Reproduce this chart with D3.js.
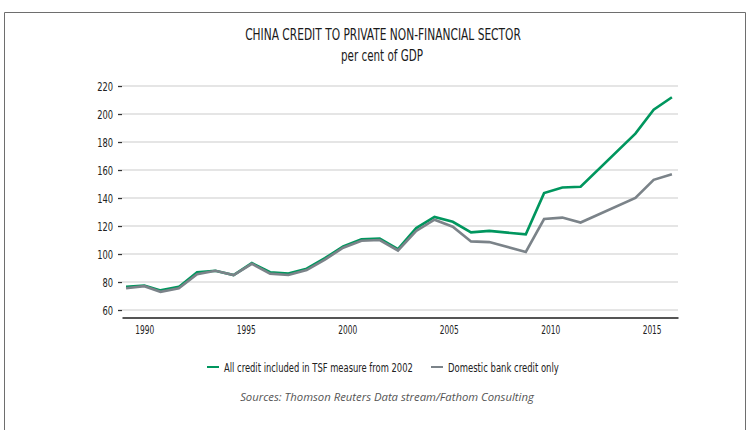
<!DOCTYPE html>
<html>
<head>
<meta charset="utf-8">
<script src="https://cdn.jsdelivr.net/npm/d3@7"></script>
<style>
  body { margin: 0; background: #fff; }
  svg { display: block; }
</style>
</head>
<body>
<div id="wrapper"></div>
<script>
// data (x = year position on the axis)
const years = [1989.1, 1990.0, 1990.8, 1991.7, 1992.6, 1993.5, 1994.4, 1995.3, 1996.2, 1997.1,
  1998.0, 1998.9, 1999.8, 2000.7, 2001.6, 2002.5, 2003.4, 2004.3, 2005.2, 2006.1,
  2007.0, 2008.8, 2009.7, 2010.6, 2011.5, 2014.2, 2015.1, 2016.0]
const allCredit = [76.5, 77.5, 74, 76.5, 87, 88, 85, 93.5, 87, 86,
  89.5, 97, 105.5, 110.5, 111, 103.5, 118.5, 126.5, 123, 115.5,
  116.5, 114, 143.5, 147.5, 148, 186, 203, 212]
const bankCredit = [75.5, 77, 73, 75.5, 85.5, 88, 85, 93, 86, 85,
  88.5, 96, 104.5, 109.5, 110, 102.5, 116.5, 124.5, 119.5, 109,
  108.5, 101.5, 125, 126, 122.5, 140, 153, 157]
const yTicks = [60, 80, 100, 120, 140, 160, 180, 200, 220]
const xTicks = [1990, 1995, 2000, 2005, 2010, 2015]
const seriesNames = ["All credit included in TSF measure from 2002", "Domestic bank credit only"]
const seriesColors = ["#00965e", "#7b8389"]

const narrow = "'DejaVu Sans Condensed', 'Liberation Sans Narrow', 'Roboto', sans-serif"

// squeeze a text horizontally around its anchor x so it spans `w` px
const squeeze = (sel, w) => sel.each(function (d, i) {
  const target = typeof w === "function" ? w.call(this, d, i) : w
  const len = this.getComputedTextLength()
  if (!len) return
  const s = target / len
  const x = +this.getAttribute("x") || 0
  d3.select(this).attr("transform", `translate(${x},0) scale(${s},1) translate(${-x},0)`)
})

const dimensions = {
  width: 755,
  height: 430,
  margin: { top: 86, right: 77, bottom: 112, left: 122 },
}
dimensions.boundedWidth = dimensions.width - dimensions.margin.left - dimensions.margin.right
dimensions.boundedHeight = dimensions.height - dimensions.margin.top - dimensions.margin.bottom

const wrapper = d3.select("#wrapper")
  .append("svg")
    .attr("width", dimensions.width)
    .attr("height", dimensions.height)

// frame
wrapper.append("path")
  .attr("d", "M4.5,440V12.5H745.5V440")
  .attr("fill", "none")
  .attr("stroke", "#6e6e6e")
  .attr("stroke-width", 1)

// titles
wrapper.append("text")
  .attr("x", 383).attr("y", 40)
  .attr("text-anchor", "middle")
  .style("font-family", narrow)
  .style("font-size", "16px")
  .attr("fill", "#1a1a1a")
  .text("CHINA CREDIT TO PRIVATE NON-FINANCIAL SECTOR")
  .call(squeeze, 276)

wrapper.append("text")
  .attr("x", 382).attr("y", 61)
  .attr("text-anchor", "middle")
  .style("font-family", narrow)
  .style("font-size", "16px")
  .attr("fill", "#1a1a1a")
  .text("per cent of GDP")
  .call(squeeze, 82)

const bounds = wrapper.append("g")
  .attr("transform", `translate(${dimensions.margin.left},${dimensions.margin.top})`)

// scales
const xScale = d3.scaleLinear()
  .domain([1988.9, 2016.3])
  .range([0, dimensions.boundedWidth])

const yScale = d3.scaleLinear()
  .domain([60, 220])
  .range([224, 0])

// gridlines
bounds.append("g")
  .selectAll("line")
  .data(yTicks)
  .join("line")
    .attr("x1", 0)
    .attr("x2", dimensions.boundedWidth)
    .attr("y1", d => yScale(d))
    .attr("y2", d => yScale(d))
    .attr("stroke", "#dcdcdc")
    .attr("stroke-width", 1.5)

// y axis
const yAxis = bounds.append("g")
  .call(d3.axisLeft(yScale).tickValues(yTicks).tickSize(4).tickPadding(5))
yAxis.select(".domain").remove()
yAxis.selectAll(".tick line").attr("stroke", "#333").attr("stroke-width", 1.3)
yAxis.selectAll(".tick text")
  .style("font-family", narrow)
  .style("font-size", "12.5px")
  .attr("fill", "#222")
  .call(squeeze, d => String(d).length * 5.3)

// x axis
const xAxis = bounds.append("g")
  .attr("transform", `translate(0,${dimensions.boundedHeight - 0.5})`)
  .call(d3.axisBottom(xScale).tickValues(xTicks).tickFormat(d3.format("d")).tickSize(0).tickPadding(8))
xAxis.select(".domain").attr("stroke", "#555").attr("stroke-width", 2)
xAxis.selectAll(".tick text")
  .style("font-family", narrow)
  .style("font-size", "12.5px")
  .attr("fill", "#222")
  .call(squeeze, 19)

// lines
const lineGenerator = d3.line()
  .x((d, i) => xScale(years[i]))
  .y(d => yScale(d))

const seriesData = [allCredit, bankCredit]
bounds.append("g")
  .selectAll("path")
  .data(seriesData)
  .join("path")
    .attr("d", d => lineGenerator(d))
    .attr("fill", "none")
    .attr("stroke", (d, i) => seriesColors[i])
    .attr("stroke-width", 2.6)
    .attr("stroke-linejoin", "miter")

// legend
const legendItems = [
  { x: 207, width: 189 },
  { x: 431, width: 111 },
]
const legend = wrapper.append("g")
  .selectAll("g")
  .data(seriesNames)
  .join("g")
    .attr("transform", (d, i) => `translate(${legendItems[i].x},367)`)

legend.append("line")
  .attr("x1", 0).attr("x2", 12)
  .attr("stroke", (d, i) => seriesColors[i])
  .attr("stroke-width", 2)

legend.append("text")
  .attr("x", 17)
  .attr("dy", "0.36em")
  .style("font-family", narrow)
  .style("font-size", "12.5px")
  .attr("fill", "#222")
  .text(d => d)
  .call(squeeze, (d, i) => legendItems[i].width)

// source
wrapper.append("text")
  .attr("x", 387).attr("y", 401)
  .attr("text-anchor", "middle")
  .style("font-family", "'Open Sans', 'Noto Sans', sans-serif")
  .style("font-style", "italic")
  .style("font-size", "10.5px")
  .attr("fill", "#555")
  .text("Sources: Thomson Reuters Data stream/Fathom Consulting")
  .call(squeeze, 294)
</script>
</body>
</html>
